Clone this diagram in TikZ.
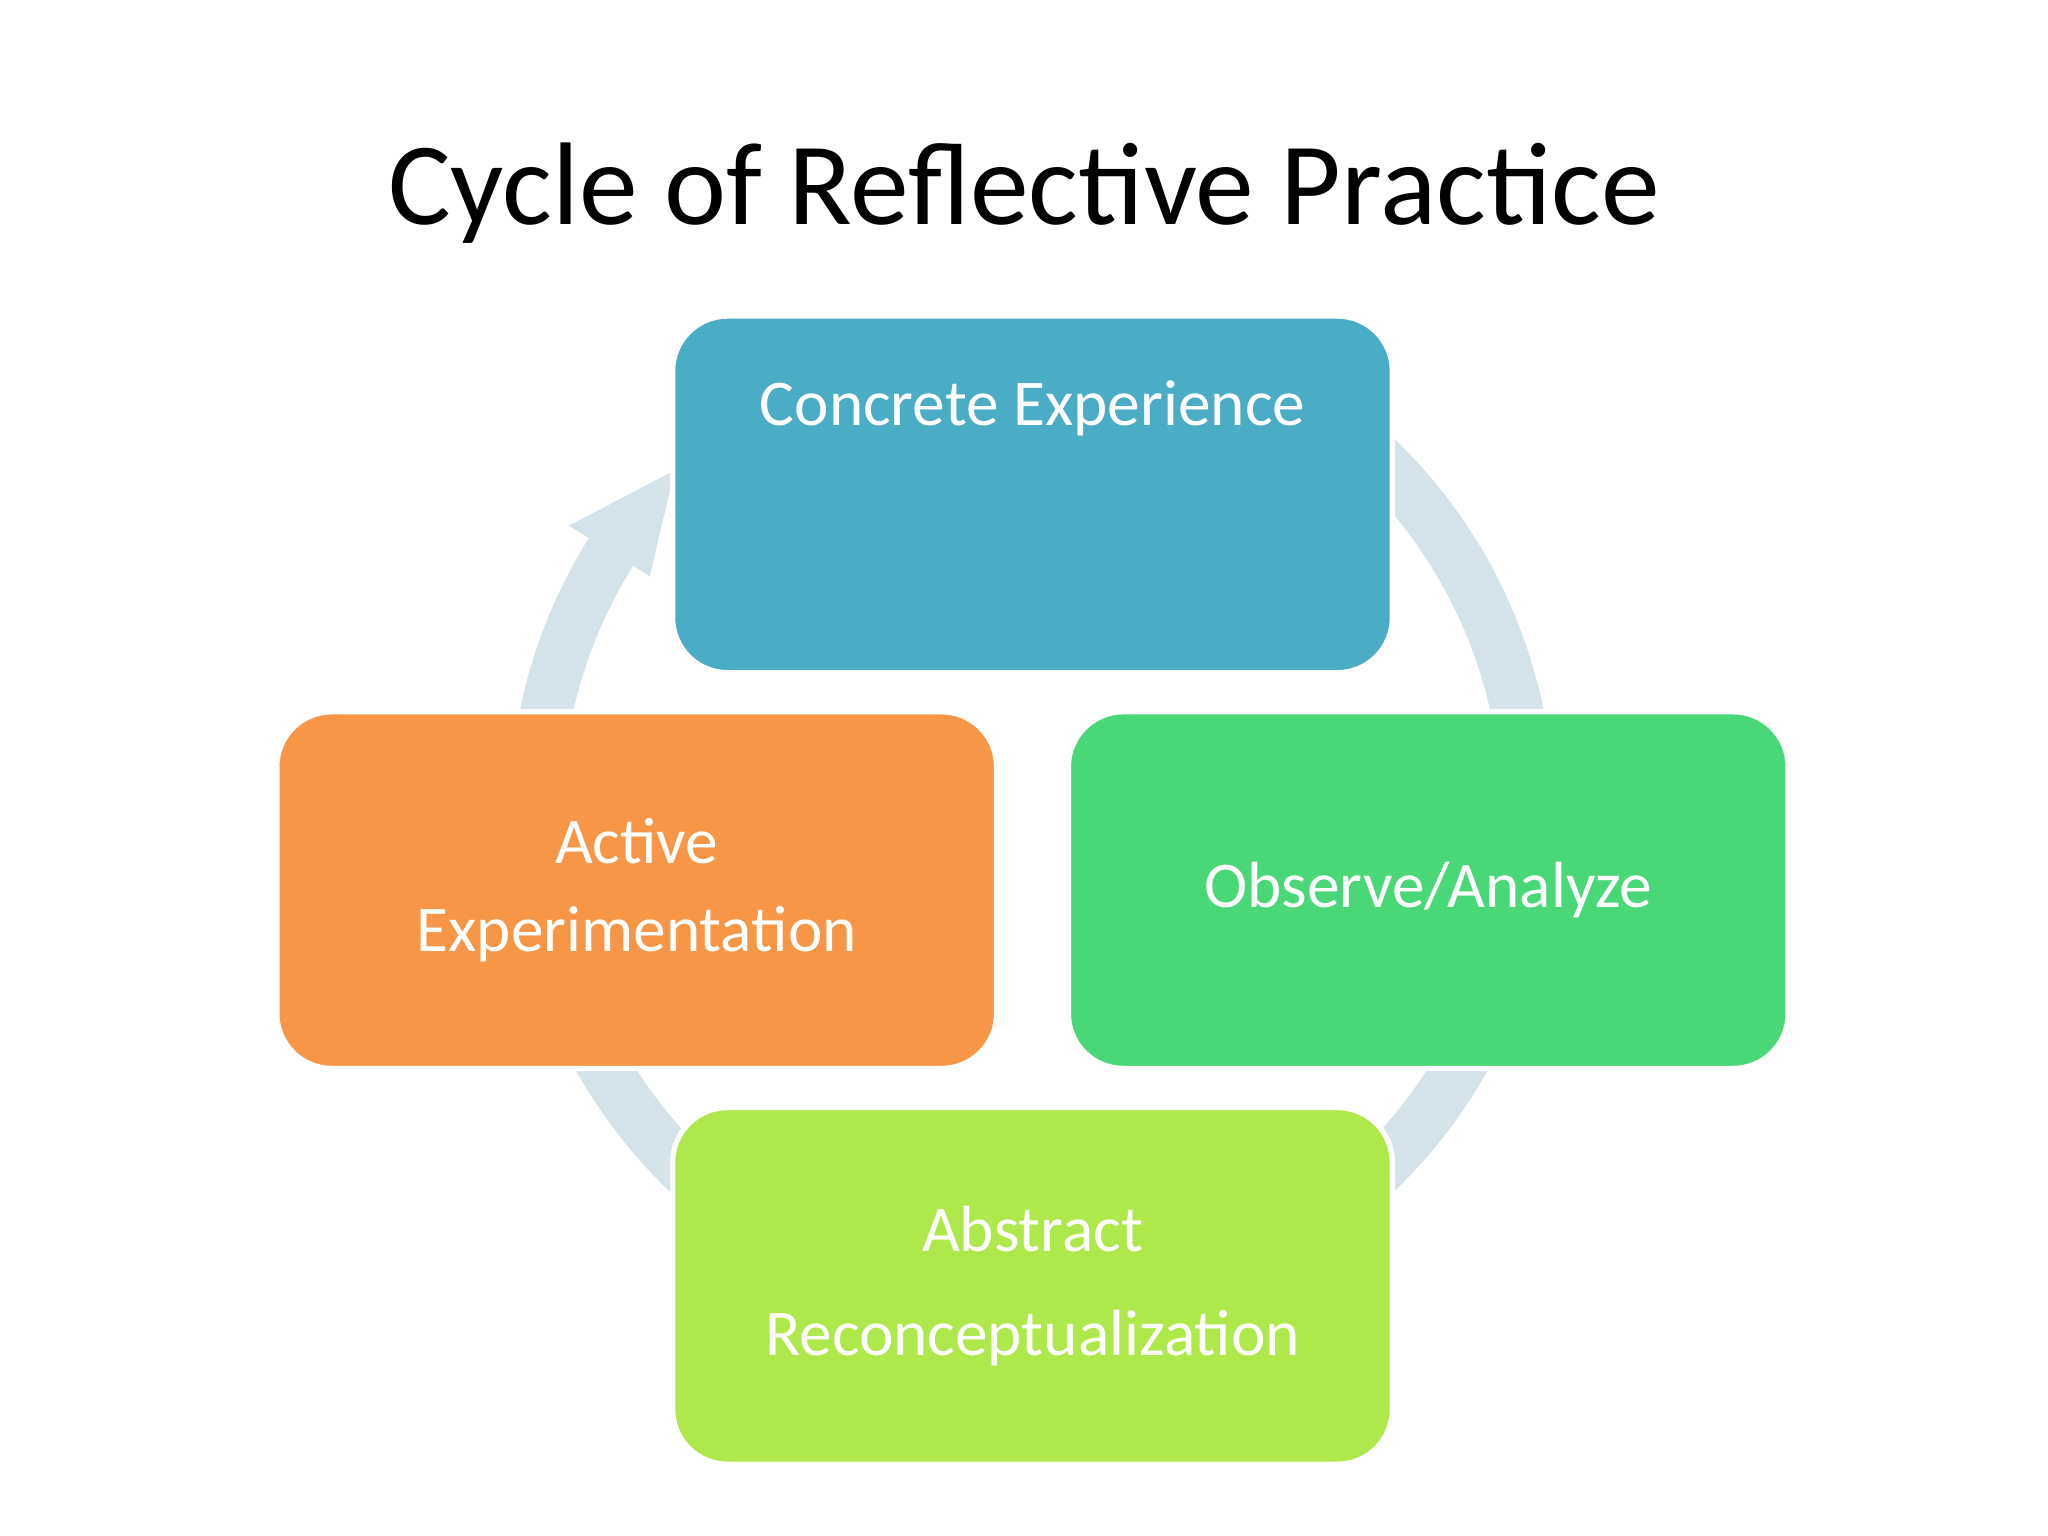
\documentclass[tikz,border=0pt]{standalone}
\usepackage{fontspec}
\usetikzlibrary{calc}
\setmainfont{Carlito}
\definecolor{ring}{HTML}{D3E3E9}
\definecolor{cblue}{HTML}{4BACC6}
\definecolor{corange}{HTML}{F79646}
\definecolor{cgreen}{HTML}{4AD778}
\definecolor{clime}{HTML}{AEE84A}
\begin{document}
\begin{tikzpicture}[x=0.5pt,y=-0.5pt,
  box/.style={draw=white,line width=2pt,rounded corners=21pt,minimum width=275.5pt,minimum height=136.5pt,text=white,font=\fontsize{25}{34}\selectfont,align=center,inner sep=0pt}]
\useasboundingbox (0,0) rectangle (1568,1176);
\coordinate (c) at (790,624);
\draw[ring,line width=20pt] ($(c)+(-50:380)$) arc[start angle=-50,end angle=212,radius=380];
\fill[ring] ($(c)+(212:345)$) -- ($(c)+(212:418)$) -- ($(c)+(224:380)$) -- cycle;
\node[font=\fontsize{45}{54}\selectfont] (title) at (784,148) {Cycle of Reflective Practice};
\node[box,fill=cblue] (ce) at (790.5,378.5) {Concrete Experience\\[36pt]};
\node[box,fill=cgreen] (oa) at (1093.5,681.5) {Observe/Analyze};
\node[box,fill=clime] (ar) at (790.5,984.5) {Abstract\\[6pt]Reconceptualization};
\node[box,fill=corange] (ae) at (487.5,681.5) {Active\\Experimentation};
\end{tikzpicture}
\end{document}
